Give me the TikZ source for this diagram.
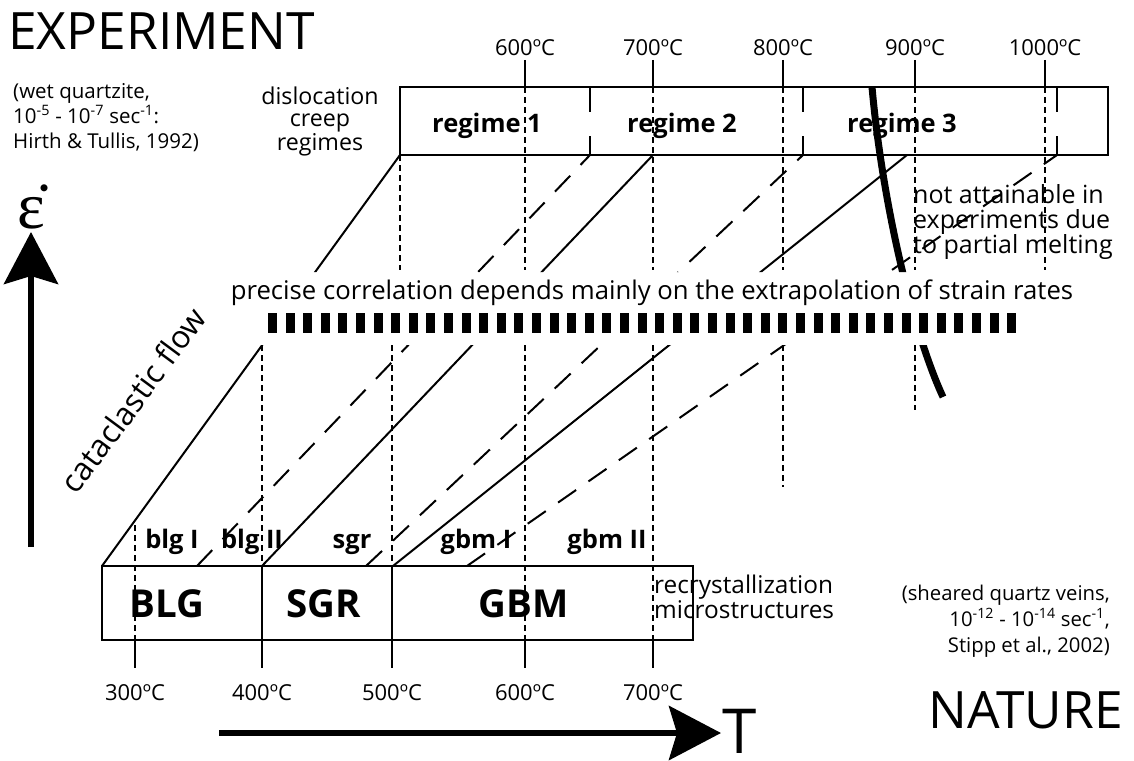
\documentclass[tikz,border=0pt]{standalone}
\usepackage{fontspec}
\setmainfont{Open Sans}
\newfontfamily\epsfont{Liberation Serif}
\usetikzlibrary{arrows.meta}

\begin{document}
\begin{tikzpicture}[x=1pt,y=-1pt,
  txt/.style={font=\fontsize{25.7}{25}\selectfont,inner sep=0pt},
  small/.style={font=\fontsize{20.5}{25}\selectfont,inner sep=0pt},
  temp/.style={font=\fontsize{22}{25}\selectfont,inner sep=0pt},
  bold/.style={font=\fontsize{25.5}{25}\selectfont\bfseries,inner sep=0pt},
  zone/.style={font=\fontsize{38.5}{40}\selectfont\bfseries,inner sep=0pt},
  heading/.style={font=\fontsize{51.5}{52}\selectfont,inner sep=0pt},
  frame/.style={draw,line width=2.4pt,inner sep=0pt,outer sep=0pt,anchor=north west},
  guide/.style={line width=1.1pt,dash pattern=on 6pt off 4pt},
  border/.style={line width=2pt},
  longdash/.style={line width=2pt,dash pattern=on 22pt off 15pt},
  melt/.style={line width=7pt},
  axis/.style={line width=6pt,-{Stealth[length=52pt,width=54pt,inset=8pt]}}]
\useasboundingbox (0,0) rectangle (1134,760);

\node[heading,anchor=base west] (exp) at (8,50) {EXPERIMENT};
\node[heading,anchor=base east] (nat) at (1123,728) {NATURE};

\node[small,align=left,anchor=base west] (wet) at (13,148) {(wet quartzite,\\10\textsuperscript{-5} - 10\textsuperscript{-7} sec\textsuperscript{-1}:\\Hirth \& Tullis, 1992)};
\node[txt,align=center,anchor=base,font=\fontsize{23.2}{21.5}\selectfont] (disl) at (320,150) {dislocation\\creep\\regimes};
\node[txt,align=left,anchor=base west,font=\fontsize{25}{25}\selectfont] (notatt) at (913,253) {not attainable in\\experiments due\\to partial melting};
\node[txt,anchor=base] (precise) at (652,299) {precise correlation depends mainly on the extrapolation of strain rates};
\node[txt,align=left,anchor=base west,font=\fontsize{24.4}{23}\selectfont] (recrlab) at (654,618) {recrystallization\\microstructures};
\node[small,align=right,anchor=base east,font=\fontsize{20.3}{26}\selectfont] (veins) at (1110,652) {(sheared quartz veins,\\10\textsuperscript{-12} - 10\textsuperscript{-14} sec\textsuperscript{-1},\\Stipp et al., 2002)};
\node[txt,rotate=53.5,font=\fontsize{31.5}{30}\selectfont] (cata) at (133,400) {cataclastic flow};

\node[frame,minimum width=708pt,minimum height=68pt] (creep) at (400,87) {};
\node[frame,minimum width=591pt,minimum height=74pt] (recr) at (102,566) {};

\foreach \x in {590,803,1057}{
  \draw[border] (\x,87) -- (\x,112) (\x,136) -- (\x,155);
}
\foreach \x/\lab in {525/600,653/700,783/800,915/900,1045/1000}{
  \draw[border] (\x,60) -- (\x,87);
  \draw[guide] (\x,87) -- (\x,270);
  \node[temp,anchor=base] (t\lab) at (\x,56) {\lab ºC};
}
\draw[guide] (creep.south west) -- (400,270);

\node[bold,anchor=base] (reg1) at (487,132) {regime 1};
\node[bold,anchor=base] (reg2) at (682,132) {regime 2};
\node[bold,anchor=base] (reg3) at (902,132) {regime 3};

\begin{scope}
\clip (0,0) rectangle (1134,272) (0,345) rectangle (1134,760);
\draw[border] (recr.north west) -- (creep.south west);
\draw[border] (262,566) -- (653,155);
\draw[border] (393,566) -- (907,155);
\draw[longdash] (197,566) -- (590,155);
\draw[longdash] (366,566) -- (803,155);
\draw[longdash] (467,566) -- (1057,155);
\draw[melt] (872,87) .. controls (882,200) and (912,330) .. (943,397);
\end{scope}

\foreach \i in {0,...,42}{
  \fill ({268+17.6*\i},313) rectangle ++(9,20);
}

\draw[guide] (135,525) -- (135,640);
\foreach \x in {262,392}{
  \draw[guide] (\x,345) -- (\x,566);
  \draw[border] (\x,566) -- (\x,640);
}
\foreach \x in {525,653}{
  \draw[guide] (\x,345) -- (\x,640);
}
\draw[guide] (783,345) -- (783,487);
\draw[guide] (915,345) -- (915,410);
\foreach \x/\lab in {135/300,262/400,392/500,525/600,653/700}{
  \draw[border] (\x,640) -- (\x,668);
  \node[temp,anchor=base] (b\lab) at (\x,700) {\lab ºC};
}

\node[bold,anchor=base] (blg1) at (172,548) {blg I};
\node[bold,anchor=base] (blg2) at (252,548) {blg II};
\node[bold,anchor=base] (sgr) at (352,548) {sgr};
\node[bold,anchor=base] (gbm1) at (476,548) {gbm I};
\node[bold,anchor=base] (gbm2) at (607,548) {gbm II};

\node[zone,anchor=base] (blg) at (167,617) {BLG};
\node[zone,anchor=base] (sgrz) at (324,617) {SGR};
\node[zone,anchor=base] (gbm) at (524,617) {GBM};

\coordinate (e0) at (31,547);
\coordinate (e1) at (31,232);
\draw[axis] (e0) -- (e1);
\node[font=\fontsize{66}{66}\selectfont\epsfont,inner sep=0pt,anchor=base] (epsdot) at (31,228) {ε^^^^0307};

\coordinate (T0) at (219,733);
\coordinate (T1) at (721,733);
\draw[axis] (T0) -- (T1);
\node[font=\fontsize{62}{62}\selectfont,inner sep=0pt,anchor=base west] (Tlab) at (722,753) {T};
\end{tikzpicture}
\end{document}
